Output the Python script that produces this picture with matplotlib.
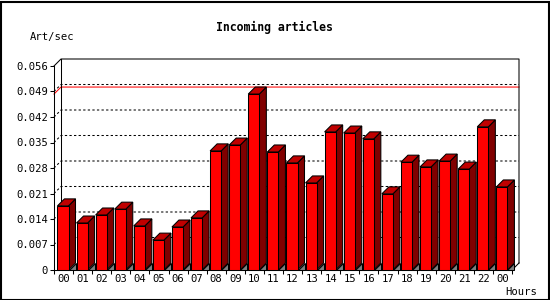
import matplotlib
matplotlib.use("Agg")
import matplotlib.pyplot as plt
from matplotlib.patches import Polygon, Rectangle

# data
hour_labels = ["00", "01", "02", "03", "04", "05", "06", "07", "08", "09", "10", "11",
               "12", "13", "14", "15", "16", "17", "18", "19", "20", "21", "22", "00"]
art_per_sec = [0.0176, 0.0129, 0.0151, 0.0167, 0.0121, 0.0082, 0.0118, 0.0143,
               0.0327, 0.0343, 0.0483, 0.0324, 0.0294, 0.0239, 0.0379, 0.0376,
               0.0360, 0.0209, 0.0296, 0.0283, 0.0299, 0.0277, 0.0393, 0.0228]
y_ticks = [0, 0.007, 0.014, 0.021, 0.028, 0.035, 0.042, 0.049, 0.056]
y_tick_labels = ["0", "0.007", "0.014", "0.021", "0.028", "0.035", "0.042", "0.049", "0.056"]
y_max = 0.056

FRONT = "#ff0000"
TOP = "#c00000"
SIDE = "#800000"
FLOOR = "#808080"
LW = 0.75
FONT = "DejaVu Sans Mono"

W, H = 550, 300
fig = plt.figure(figsize=(W / 100, H / 100), dpi=100)
ax_l, ax_b, ax_w, ax_h = 54, 30, 458, 204   # pixel box of the front axes
ax = fig.add_axes([ax_l / W, ax_b / H, ax_w / W, ax_h / H])
n = len(art_per_sec)
ax.set_xlim(0, n)
ax.set_ylim(0, y_max)

# 3d depth, 7 px in both directions, in data units
dx = 7 / ax_w * n
dy = 7 / ax_h * y_max

for s in ["top", "right", "bottom"]:
    ax.spines[s].set_visible(False)
ax.spines["left"].set_linewidth(LW)
ax.spines["left"].set_zorder(1)
ax.patch.set_visible(False)

ax.set_yticks(y_ticks)
ax.set_yticklabels(y_tick_labels, fontfamily=FONT, fontsize=7.6)
ax.tick_params(axis="y", length=4 * 0.72, width=LW, pad=1.5)
ax.set_xticks(range(n + 1))
ax.set_xticklabels([])
ax.set_xticks([i + 0.5 for i in range(n)], minor=True)
ax.set_xticklabels(hour_labels, minor=True, fontfamily=FONT, fontsize=7.6)
ax.tick_params(axis="x", which="major", length=4 * 0.72, width=LW)
ax.tick_params(axis="x", which="minor", length=0, pad=3)

# back wall frame
wall = dict(color="black", lw=LW, clip_on=False, zorder=1)
ax.plot([0, dx, n + dx, n + dx], [y_max, y_max + dy, y_max + dy, dy], **wall)
ax.plot([dx, dx], [dy, y_max + dy], **wall)
ax.plot([n, n + dx], [0, dy], **wall)
ax.plot([0, n], [0, 0], **wall)

# dotted grid on the back wall
for v in y_ticks[1:-1]:
    ax.plot([0, dx, n + dx], [v, v + dy, v + dy], color="black", lw=LW,
            linestyle=(0, (2.2, 2.2)), clip_on=False, zorder=0.5)

# max line
peak = max(art_per_sec)
ax.plot([0, dx, n + dx], [peak, peak + dy, peak + dy], color="red", lw=LW,
        clip_on=False, zorder=0.6)

# 3d bars
off, bw = 0.18, 0.58
for i, v in enumerate(art_per_sec):
    x0 = i + off
    x1 = x0 + bw
    z = 2 + i * 0.01
    ax.add_patch(Polygon([(x1, 0), (x1 + dx, 0), (x1 + dx, dy)], closed=True,
                         facecolor=FLOOR, edgecolor="black", lw=LW, clip_on=False, zorder=z))
    ax.add_patch(Polygon([(x1, 0), (x1, v), (x1 + dx, v + dy), (x1 + dx, dy)], closed=True,
                         facecolor=SIDE, edgecolor="black", lw=LW, clip_on=False, zorder=z))
    ax.add_patch(Polygon([(x0, v), (x0 + dx, v + dy), (x1 + dx, v + dy), (x1, v)], closed=True,
                         facecolor=TOP, edgecolor="black", lw=LW, clip_on=False, zorder=z))
    ax.add_patch(Rectangle((x0, 0), bw, v, facecolor=FRONT, edgecolor="black",
                           lw=LW, clip_on=False, zorder=z))

# texts
fig.text(274 / W, 1 - 27 / H, "Incoming articles", ha="center", va="center",
         fontfamily=FONT, fontsize=8.3, fontweight="bold")
fig.text(30 / W, 1 - 37 / H, "Art/sec", ha="left", va="center",
         fontfamily=FONT, fontsize=7.6)
fig.text(505 / W, 1 - 292 / H, "Hours", ha="left", va="center",
         fontfamily=FONT, fontsize=7.6)

# outer frame
fig.patches.append(Rectangle((0.5 / W, 0.5 / H), 1 - 2 / W, 1 - 2 / H,
                             transform=fig.transFigure, fill=False,
                             edgecolor="black", lw=1.5))

fig.savefig("out.png", dpi=100)
